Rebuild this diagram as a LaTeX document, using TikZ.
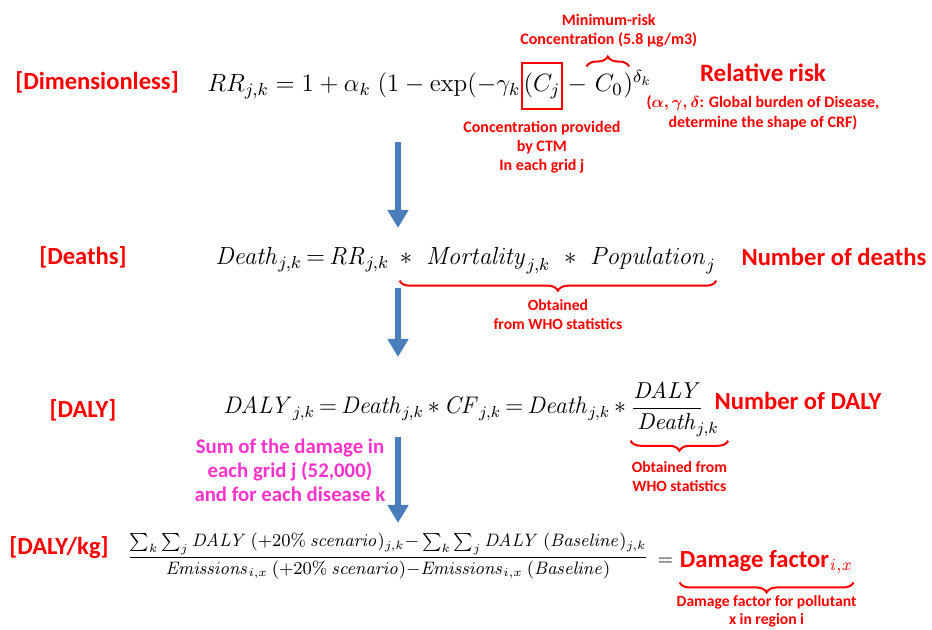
\RequirePackage{fix-cm}
\documentclass[tikz,border=0pt]{standalone}
\usepackage{amsmath}
\usepackage[no-math]{fontspec}
\setmainfont{Carlito}
\usetikzlibrary{positioning,arrows.meta,decorations.pathreplacing}
\definecolor{arrowblue}{HTML}{4A7EBB}
\definecolor{pink}{HTML}{FF33CC}

\begin{document}
\begin{tikzpicture}[x=0.5pt,y=-0.5pt]
  \tikzstyle{tag}=[text=red, font=\bfseries\fontsize{12.3}{14}\selectfont]
  \tikzstyle{note}=[text=red, font=\bfseries\fontsize{8}{9.6}\selectfont, align=center]
  \tikzstyle{small}=[note, font=\bfseries\fontsize{7.8}{9.2}\selectfont]
  \tikzstyle{eqn}=[inner sep=0pt, anchor=base west, font=\fontsize{12.5}{15}\selectfont]
  \tikzstyle{eqtwo}=[eqn, font=\fontsize{12.4}{15}\selectfont]
  \tikzstyle{brace}=[draw=red, line width=1pt, decorate, decoration={brace, amplitude=5pt}]
  \tikzstyle{flow}=[draw=arrowblue, line width=3pt, -{Triangle[width=10pt, length=9pt]}]
  \useasboundingbox (0,0) rectangle (932,630);

  \node[tag] (dimless) at (97,82) {[Dimensionless]};
  \node[eqn] (rr) at (207,92) {$RR_{j,k}=1+\alpha_k\;(1-\exp(-\gamma_k$};
  \node[eqn, draw=red, line width=1pt, inner xsep=1pt, inner ysep=5pt] (cj) at (rr.base east) {$(C_j$};
  \node[eqn] (minus) at (cj.base east) {$\,-\;$};
  \node[eqn] (czero) at (minus.base east) {$C_0$};
  \node[eqn] (dk) at (czero.base east) {$)^{\delta_k}$};
  \draw[brace] ([xshift=-4pt, yshift=4pt]czero.north west) -- ([xshift=3pt, yshift=4pt]czero.north east);
  \node[note, above=10pt of czero.north] (minrisk) {Minimum-risk\\Concentration (5.8 µg/m3)};
  \node[note, below=2pt of cj.south] (ctm) {Concentration provided\\by CTM\\In each grid j};
  \node[tag, font=\bfseries\fontsize{12.5}{15}\selectfont] (rrisk) at (763,73) {Relative risk};
  \node[note, below=0pt of rrisk] (gbd) {($\boldsymbol{\alpha,\gamma,\delta}$: Global burden of Disease,\\determine the shape of CRF)};

  \coordinate (a1top) at (398,142);
  \coordinate (a1bot) at (398,228);
  \draw[flow] (a1top) -- (a1bot);

  \node[tag] (deaths) at (83,257) {[Deaths]};
  \node[eqtwo] (dlhs) at (215,265) {$\mathit{Death}_{j,k}\,{=}\,\mathit{RR}_{j,k}$};
  \node[eqtwo] (dprod) at ([xshift=5pt]dlhs.base east) {${*}\;\;\mathit{Mortality}_{j,k}\;\;{*}\;\;\mathit{Population}_j$};
  \draw[brace] ([yshift=-3pt]dprod.south east) -- ([yshift=-3pt]dprod.south west);
  \node[small, below=9pt of dprod.south] (who1) {Obtained\\from WHO statistics};
  \node[tag] (ndeaths) at (834,257) {Number of deaths};

  \coordinate (a2top) at (398,288);
  \coordinate (a2bot) at (398,357);
  \draw[flow] (a2top) -- (a2bot);

  \node[tag] (daly) at (83,410) {[DALY]};
  \node[eqtwo, font=\fontsize{12}{15}\selectfont] (dalylhs) at (223,414) {$\mathit{DALY}_{j,k}\,{=}\,\mathit{Death}_{j,k}\,{*}\,\mathit{CF}_{j,k}\,{=}\,\mathit{Death}_{j,k}\,{*}\,$};
  \node[eqtwo, font=\fontsize{11.5}{13}\selectfont] (cf) at (dalylhs.base east) {$\dfrac{\mathit{DALY}}{\mathit{Death}_{\rlap{$\scriptstyle j,k$}}}$};
  \node[tag] (ndaly) at (798,401) {Number of DALY};
  \draw[brace] ([xshift=12pt, yshift=-2pt]cf.south east) -- ([yshift=-2pt]cf.south west);
  \node[small, below=9pt of cf.south, xshift=6pt] (who2) {Obtained from\\WHO statistics};
  \node[note, text=pink, font=\bfseries\fontsize{10.4}{12}\selectfont] (sum) at (290,470) {Sum of the damage in\\each grid j (52,000)\\and for each disease k};

  \coordinate (a3top) at (398,437);
  \coordinate (a3bot) at (398,523);
  \draw[flow] (a3top) -- (a3bot);

  \node[tag] (perkg) at (59,548) {[DALY/kg]};
  \node[inner sep=0pt, font=\fontsize{9}{11}\selectfont] (dfrac) at (388,556) {$\dfrac{\textstyle\sum_k\sum_j \mathit{DALY}\ (+20\%\ \mathit{scenario})_{j,k}{-}\sum_k\sum_j \mathit{DALY}\ (\mathit{Baseline})_{j,k}}{\mathit{Emissions}_{i,x}\ (+20\%\ \mathit{scenario}){-}\mathit{Emissions}_{i,x}\ (\mathit{Baseline})}$};
  \node[right=4pt of dfrac, inner sep=0pt, yshift=-3pt, font=\fontsize{10}{12}\selectfont] (equal) {$=$};
  \node[tag, right=3pt of equal, inner sep=0pt] (df) {Damage factor$_{\mathit{i,x}}$};
  \draw[brace] ([yshift=-4pt]df.south east) -- ([yshift=-4pt]df.south west);
  \node[small, below=7pt of df.south] (dfnote) {Damage factor for pollutant\\x in region i};
\end{tikzpicture}
\end{document}
